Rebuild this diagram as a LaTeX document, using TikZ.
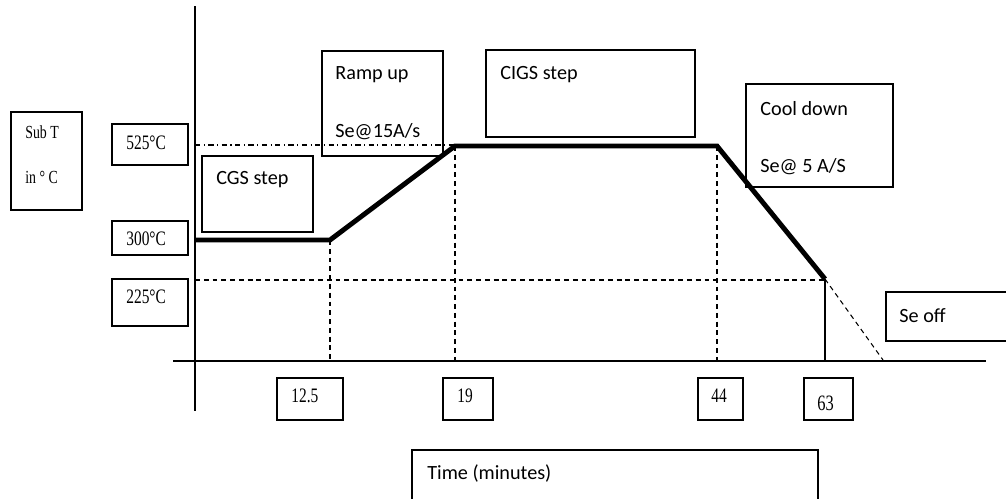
\documentclass[tikz,border=0pt]{standalone}
\usepackage{fontspec}
\setmainfont{Liberation Serif}
\newfontfamily\calibfont{Carlito}
\newfontfamily\narrowserif[FakeStretch=0.75]{Liberation Serif}
\usetikzlibrary{fit}

\tikzset{
  box/.style={draw, line width=0.7pt, inner sep=0pt},
  lbl/.style={anchor=west, inner sep=0pt, font=\calibfont\fontsize{11.5}{13}\selectfont},
  tlbl/.style={anchor=west, inner sep=0pt, font=\narrowserif\fontsize{11.7}{13}\selectfont},
  guide/.style={line width=0.6pt, dash pattern=on 2.8pt off 2.2pt},
  profile/.style={line width=2.8pt, line join=miter},
}

\begin{document}
\begin{tikzpicture}[x=0.02cm, y=-0.02cm]
    \useasboundingbox (0,0) rectangle (1006,498);
    % axes
    \coordinate (ytop) at (195,6);
    \coordinate (ybot) at (195,411);
    \coordinate (xl) at (173,361);
    \coordinate (xr) at (986,361);
    \draw[line width=0.8pt] (ytop) -- (ybot);
    \draw[line width=0.8pt] (xl) -- (xr);

    % temperature profile
    \coordinate (p0) at (195,240);
    \coordinate (p1) at (330,240);
    \coordinate (p2) at (455,146);
    \coordinate (p3) at (717,146);
    \coordinate (p4) at (825,279);
    \coordinate (h525) at (195,145);
    \coordinate (h225) at (195,280);
    \coordinate (seend) at (883,360);
    \draw[line width=0.6pt, dash dot] (h525) -- (p2 |- h525);
    \draw[guide] (h225) -- (p4 |- h225);
    \draw[guide] (p1) -- (p1 |- xl);
    \draw[guide] (p2) -- (p2 |- xl);
    \draw[guide] (p3) -- (p3 |- xl);
    \draw[guide] (p4) -- (seend);
    \draw[line width=0.6pt] (p4) -- (p4 |- xl);
    \draw[profile] (p0) -- (p1) -- (p2) -- (p3) -- (p4);

    % y labels
    \node[box, fit={(11,112) (82,210)}] (subtbox) {};
    \node[tlbl, font=\narrowserif\fontsize{10.5}{12}\selectfont] (subt) at (25,132) {Sub T};
    \node[tlbl, font=\narrowserif\fontsize{10.5}{12}\selectfont] (subtunit) at (25,177) {in ° C};
    \node[box, fit={(112,124) (188,165)}] (t525box) {};
    \node[tlbl] (t525) at (126,143) {525°C};
    \node[box, fit={(112,221) (188,255)}] (t300box) {};
    \node[tlbl] (t300) at (126,239) {300°C};
    \node[box, fit={(112,279) (188,326)}] (t225box) {};
    \node[tlbl] (t225) at (126,297) {225°C};

    % step boxes
    \node[box, fit={(202,156) (313,232)}] (cgsbox) {};
    \node[lbl] (cgs) at (216,180) {CGS step};
    \node[box, fit={(322,51) (443,156)}] (rampbox) {};
    \node[lbl] (ramp) at (335,75) {Ramp up};
    \node[lbl] (rampse) at (335,132) {Se@15A/s};
    \node[box, fit={(486,50) (695,137)}] (cigsbox) {};
    \node[lbl] (cigs) at (500,75) {CIGS step};
    \node[box, fit={(746,84) (893,187)}] (coolbox) {};
    \node[lbl] (cool) at (760,109) {Cool down};
    \node[lbl] (coolse) at (760,167) {Se@ 5 A/S};
    \node[box, fit={(886,292) (1008,341)}] (seoffbox) {};
    \node[lbl] (seoff) at (899,316) {Se off};

    % time labels
    \node[box, fit={(277,378) (343,420)}] (m125box) {};
    \node[tlbl] (m125) at (291,396) {12.5};
    \node[box, fit={(443,378) (493,420)}] (m19box) {};
    \node[tlbl] (m19) at (457,396) {19};
    \node[box, fit={(698,378) (743,420)}] (m44box) {};
    \node[tlbl] (m44) at (711,396) {44};
    \node[box, fit={(804,378) (853,420)}] (m63box) {};
    \node[tlbl, font=\narrowserif\fontsize{12.5}{14}\selectfont] (m63) at (817,403) {63};
    \node[box, fit={(412,450) (818,502)}] (timebox) {};
    \node[lbl] (time) at (427,473) {Time (minutes)};
\end{tikzpicture}
\end{document}
